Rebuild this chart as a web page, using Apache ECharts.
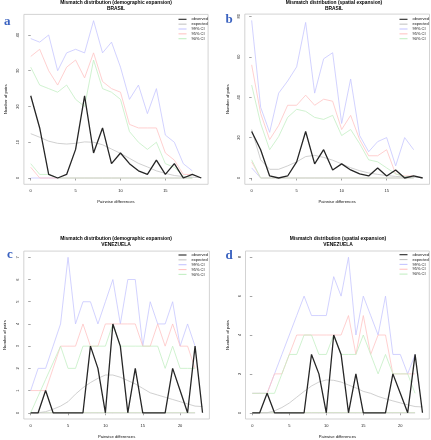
<!DOCTYPE html>
<html><head><meta charset="utf-8">
<script src="https://cdn.jsdelivr.net/npm/echarts@6/dist/echarts.min.js"></script>
<style>html,body{margin:0;padding:0;background:#fff}#c{width:431px;height:440px}</style>
</head><body><div id="c"></div>
<script>
// ---------- tick labels ----------
const xTicksBR = [0, 5, 10, 15];
const xTicksVE = [0, 5, 10, 15, 20];
const yTicksA = [0, 10, 20, 30, 40];
const yTicksB = [0, 20, 40, 60, 80];
const yTicksC = [0, 1, 2, 3, 4, 5, 6, 7];
const yTicksD = [0, 2, 4, 6, 8];

// ---------- BRASIL ----------
const observedBR = [23, 14, 1, 0, 1, 8, 23, 7, 14, 4, 7, 4, 2, 1, 5, 1, 4, 0, 1, 0];
const expectedA = [12.4, 11.4, 10.3, 9.7, 9.5, 9.7, 10.1, 10.0, 9.3, 8.1, 6.9, 5.5, 4.1, 3.1, 2.0, 1.3, 0.7, 0.4, 0.2, 0.1];
const ci99UpA = [39, 38, 40, 30, 35, 36, 35, 44, 35, 38, 31, 22, 26, 18, 25, 12, 10, 4, 2];
const ci99LoA = [0, 0, 0, 0, 0, 0, 0, 0, 0, 0, 0, 0, 0, 0, 0, 0, 0, 0, 0];
const ci95UpA = [34, 36, 30, 26, 31, 33, 28, 35, 27, 25, 24, 15, 14, 14, 14, 7, 5, 1, 1];
const ci95LoA = [3, 0, 0, 0, 0, 0, 0, 0, 0, 0, 0, 0, 0, 0, 0, 0, 0, 0, 0];
const ci90UpA = [31, 26, 25, 24, 26, 22, 20, 33, 25, 24, 22, 13, 10, 8, 10, 4, 3, 0.5, 0];
const ci90LoA = [4, 1, 1, 0, 0, 0, 0, 0, 0, 0, 0, 0, 0, 0, 0, 0, 0, 0, 0];

const expectedB = [24, 9, 4.3, 4.3, 6, 8, 10.6, 11.2, 10.2, 8.8, 7, 5.1, 3.6, 2.5, 1.8, 1.2, 0.8, 0.5, 0.3, 0.2];
const ci99UpB = [78, 35, 22.6, 42, 48, 55, 77, 42, 59, 62, 27, 49, 21, 13, 18, 20, 6, 20, 14];
const ci99LoB = [5, 0, 0, 0, 0, 0, 0, 0, 0, 0, 0, 0, 0, 0, 0, 0, 0, 0, 0];
const ci95UpB = [56, 32, 19, 26, 36, 36, 41, 36, 39, 38, 24, 31, 19, 11, 11, 14, 2, 1, 1];
const ci95LoB = [8, 0, 0, 0, 0, 0, 0, 0, 0, 0, 0, 0, 0, 0, 0, 0, 0, 0, 0];
const ci90UpB = [46, 27, 14, 20.5, 30, 34, 33, 30, 29, 31, 21, 24, 17, 9, 8, 5, 2, 0.7, 0.5];
const ci90LoB = [9, 0, 0, 0, 0, 0, 0, 0, 0, 0, 0, 0, 0, 0, 0, 0, 0, 0, 0];

// ---------- VENEZUELA ----------
const observedVE = [0, 0, 1, 0, 0, 0, 0, 0, 3, 2, 0, 4, 3, 0, 2, 0, 0, 0, 0, 2, 1, 0, 3, 0];
const expectedC = [0, 0, 0.05, 0.16, 0.3, 0.5, 0.84, 1.13, 1.36, 1.55, 1.7, 1.7, 1.6, 1.45, 1.3, 1.1, 0.9, 0.8, 0.7, 0.6, 0.5, 0.4, 0.3, 0.28];
const ci99UpC = [1, 2, 2, 3, 4, 7, 4, 5, 5, 4, 5, 6, 4, 6, 6, 3, 5, 4, 4, 5, 3, 4, 3];
const ci95UpC = [1, 1, 1, 2, 3, 3, 3, 4, 3, 3, 4, 4, 4, 4, 4, 3, 3, 4, 3, 4, 3, 3, 2];
const ci90UpC = [0, 0.75, 1.5, 2.25, 3, 2, 2, 3, 3, 3, 3, 4, 3, 3, 3, 3, 3, 3, 2, 3, 2, 2, 2];
const ciLoC = [0, 0, 0, 0, 0, 0, 0, 0, 0, 0, 0, 0, 0, 0, 0, 0, 0, 0, 0, 0, 0, 0, 0];

const expectedD = [0, 0, 0, 0.1, 0.27, 0.5, 0.8, 1.1, 1.38, 1.58, 1.69, 1.67, 1.58, 1.43, 1.28, 1.1, 1.0, 0.84, 0.72, 0.61, 0.51, 0.41, 0.32, 0.3];
const ci99UpD = [1, 1, 1, 2, 3, 4, 5, 6, 5, 5, 5, 7, 6, 8, 4, 6, 5, 4, 6, 3, 3, 2, 3];
const ci95UpD = [1, 1, 1, 2, 2, 3, 4, 4, 4, 4, 4, 4, 4, 5, 3, 5, 3, 4, 4, 2, 2, 2, 2];
const ci90UpD = [1, 1, 1, 1, 2, 3, 3, 4, 4, 3, 3, 4, 3, 3, 3, 4, 3, 2, 3, 2, 2, 2, 1];
const ciLoD = [0, 0, 0, 0, 0, 0, 0, 0, 0, 0, 0, 0, 0, 0, 0, 0, 0, 0, 0, 0, 0, 0, 0];

const legendNames = ['observed', 'expected', '99% CI', '95% CI', '90% CI'];

// ---------- styles / layout ----------
const COL = { obs: '#262626', exp: '#c4c4c4', c99: '#c6c6ff', c95: '#ffc4c4', c90: '#c4efc4' };
const FONT = '"Liberation Sans", Arial, sans-serif';

const panels = [
  { grid: { left: 23.9, top: 14.4, width: 184.2, height: 169.9 }, xT: xTicksBR, yT: yTicksA,
    obs: observedBR, exp: expectedA, u99: ci99UpA, l99: ci99LoA, u95: ci95UpA, l95: ci95LoA, u90: ci90UpA, l90: ci90LoA,
    legend: { left: 178.5, top: 17.3 }, yGap: 16, xGap: 15.5 },
  { grid: { left: 244.8, top: 14.1, width: 184.7, height: 170.2 }, xT: xTicksBR, yT: yTicksB,
    obs: observedBR, exp: expectedB, u99: ci99UpB, l99: ci99LoB, u95: ci95UpB, l95: ci95LoB, u90: ci90UpB, l90: ci90LoB,
    legend: { left: 399.5, top: 17.3 }, yGap: 14.8, xGap: 15.5 },
  { grid: { left: 23.8, top: 251.1, width: 185.6, height: 168.9 }, xT: xTicksVE, yT: yTicksC,
    obs: observedVE, exp: expectedC, u99: ci99UpC, l99: ciLoC, u95: ci95UpC, l95: ciLoC, u90: ci90UpC, l90: ciLoC,
    legend: { left: 178.5, top: 253 }, yGap: 16.5, xGap: 16 },
  { grid: { left: 245.5, top: 251, width: 183.8, height: 169 }, xT: xTicksVE, yT: yTicksD,
    obs: observedVE, exp: expectedD, u99: ci99UpD, l99: ciLoD, u95: ci95UpD, l95: ciLoD, u90: ci90UpD, l90: ciLoD,
    legend: { left: 399.5, top: 252.7 }, yGap: 15.5, xGap: 16 }
];

const grids = [], xAxes = [], yAxes = [], series = [], legends = [];
panels.forEach((p, gi) => {
  const n = p.obs.length - 1;
  const ymax = Math.max(...p.obs, ...p.exp, ...p.u99, ...p.u95, ...p.u90);
  grids.push(Object.assign({ show: true, borderColor: '#c8c8c8', borderWidth: 0.8, containLabel: false }, p.grid));
  xAxes.push({
    type: 'value', gridIndex: gi, min: -0.04 * n, max: n * 1.04,
    name: 'Pairwise differences', nameLocation: 'middle', nameGap: p.xGap,
    nameTextStyle: { fontSize: 4.2, color: '#111', fontFamily: FONT },
    axisLine: { show: false }, splitLine: { show: false },
    axisTick: { show: true, customValues: p.xT, length: 2.5, lineStyle: { color: '#666', width: 0.6 } },
    axisLabel: { customValues: p.xT, fontSize: 4, color: '#222', margin: 5, fontFamily: FONT }
  });
  yAxes.push({
    type: 'value', gridIndex: gi, min: -0.04 * ymax, max: ymax * 1.04,
    name: 'Number of pairs', nameLocation: 'middle', nameGap: p.yGap,
    nameTextStyle: { fontSize: 4.2, color: '#111', fontFamily: FONT },
    axisLine: { show: false }, splitLine: { show: false },
    axisTick: { show: true, customValues: p.yT, length: 2.5, lineStyle: { color: '#666', width: 0.6 } },
    axisLabel: { customValues: p.yT, fontSize: 4, color: '#222', margin: 4, rotate: 90, fontFamily: FONT }
  });
  const add = (name, vals, color, width) => series.push({
    type: 'line', name, xAxisIndex: gi, yAxisIndex: gi, symbol: 'none', silent: true,
    data: vals.map((v, i) => [i, v]), lineStyle: { color, width }, itemStyle: { color }
  });
  add('observed', p.obs, COL.obs, 1.3);
  add('expected', p.exp, COL.exp, 0.8);
  add('99% CI', p.u99, COL.c99, 0.8);
  add('99% CI', p.l99, COL.c99, 0.8);
  add('95% CI', p.u95, COL.c95, 0.8);
  add('95% CI', p.l95, COL.c95, 0.8);
  add('90% CI', p.u90, COL.c90, 0.8);
  add('90% CI', p.l90, COL.c90, 0.8);
  const start = series.length - 8;
  series[start].z = 5; series[start + 1].z = 4;
  legends.push({
    data: legendNames.map((nm, k) => ({ name: nm, icon: 'rect' })),
    orient: 'vertical', left: p.legend.left, top: p.legend.top,
    itemWidth: 8, itemHeight: 1.1, itemGap: 0.85, padding: 0, selectedMode: false,
    textStyle: { fontSize: 4, color: '#111', fontFamily: FONT }
  });
});

const titleTop = 'Mismatch distribution';
const tStyle = (text) => ({ text, textAlign: 'center', verticalAlign: 'middle', fontSize: 4.9, fontWeight: 'bold', fontFamily: FONT, fill: '#000' });
const lStyle = (text) => ({ text, textAlign: 'center', verticalAlign: 'middle', fontSize: 13, fontWeight: 'bold', fontFamily: '"Liberation Serif", "Times New Roman", serif', fill: '#3a62c0' });
const graphics = [
  { type: 'text', x: 116, y: 2.7, style: tStyle(titleTop + ' (demographic expansion)') },
  { type: 'text', x: 116, y: 9, style: tStyle('BRASIL') },
  { type: 'text', x: 334, y: 2.7, style: tStyle(titleTop + ' (spatial expansion)') },
  { type: 'text', x: 334, y: 9, style: tStyle('BRASIL') },
  { type: 'text', x: 116, y: 238.3, style: tStyle(titleTop + ' (demographic expansion)') },
  { type: 'text', x: 116, y: 244.3, style: tStyle('VENEZUELA') },
  { type: 'text', x: 338, y: 238.3, style: tStyle(titleTop + ' (spatial expansion)') },
  { type: 'text', x: 338, y: 244.3, style: tStyle('VENEZUELA') },
  { type: 'text', x: 7.3, y: 21.5, style: lStyle('a') },
  { type: 'text', x: 229, y: 19.3, style: lStyle('b') },
  { type: 'text', x: 10, y: 255, style: lStyle('c') },
  { type: 'text', x: 229, y: 256, style: lStyle('d') }
];

const chart = echarts.init(document.getElementById('c'), null, { renderer: 'canvas' });
chart.setOption({
  animation: false,
  backgroundColor: '#ffffff',
  grid: grids, xAxis: xAxes, yAxis: yAxes, series, legend: legends, graphic: graphics
});
</script></body></html>
